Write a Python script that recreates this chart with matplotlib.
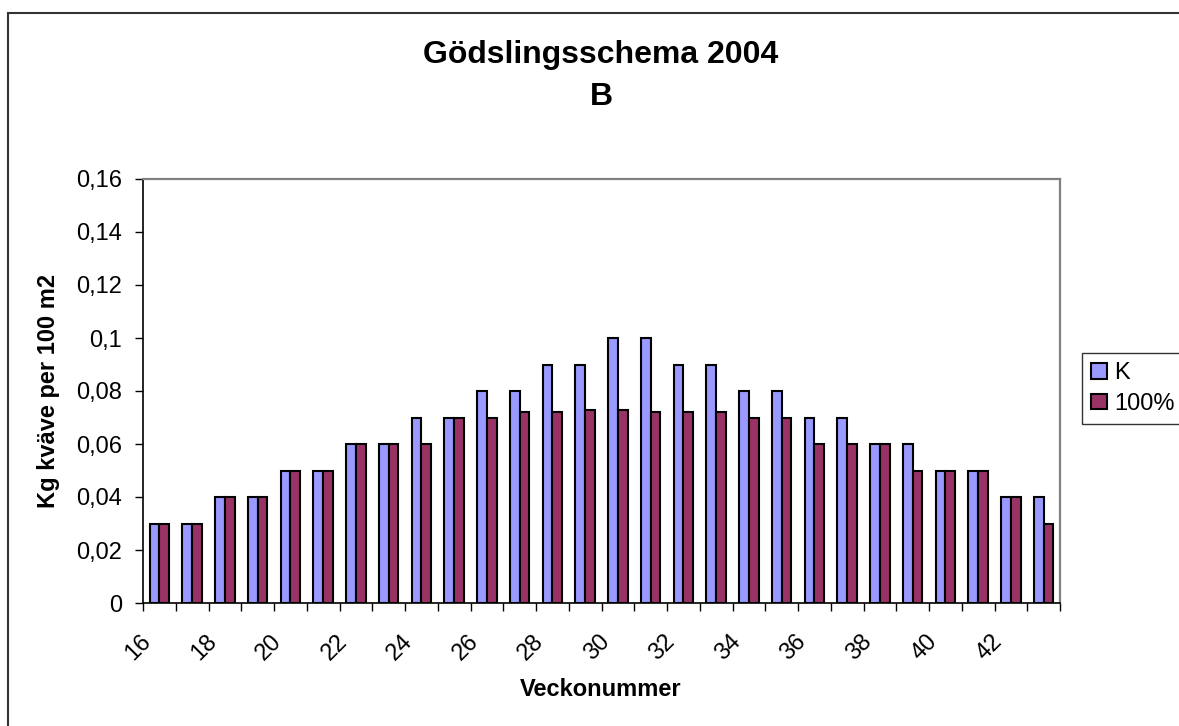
import numpy as np
import matplotlib.pyplot as plt
from matplotlib.patches import Rectangle
from matplotlib.ticker import FixedLocator, FuncFormatter
from matplotlib.transforms import ScaledTranslation

plt.rcParams['font.family'] = ['Liberation Sans', 'DejaVu Sans']

# -----------------------------
# data
# -----------------------------
weeks = list(range(16, 44))
k_vals = [0.03, 0.03, 0.04, 0.04, 0.05, 0.05, 0.06, 0.06, 0.07, 0.07,
          0.08, 0.08, 0.09, 0.09, 0.10, 0.10, 0.09, 0.09, 0.08, 0.08,
          0.07, 0.07, 0.06, 0.06, 0.05, 0.05, 0.04, 0.04]
p100_vals = [0.03, 0.03, 0.04, 0.04, 0.05, 0.05, 0.06, 0.06, 0.06, 0.07,
             0.07, 0.072, 0.072, 0.073, 0.073, 0.072, 0.072, 0.072, 0.07, 0.07,
             0.06, 0.06, 0.06, 0.05, 0.05, 0.05, 0.04, 0.03]
series_names = ['K', '100%']
y_ticks = [0, 0.02, 0.04, 0.06, 0.08, 0.10, 0.12, 0.14, 0.16]

W, H = 1179, 726
fig = plt.figure(figsize=(W / 100, H / 100), dpi=100)
ax = fig.add_axes([143 / W, 1 - 603 / H, (1060 - 143) / W, (603 - 179) / H])

x = np.arange(len(weeks))
bw = 0.295
ax.bar(x - bw / 2, k_vals, bw, color='#9999FF', edgecolor='black', linewidth=1.5,
       label=series_names[0])
ax.bar(x + bw / 2, p100_vals, bw, color='#993366', edgecolor='black', linewidth=1.5,
       label=series_names[1])

ax.set_xlim(-0.5, len(weeks) - 0.5)
ax.set_ylim(0, 0.16)

# y axis
ax.yaxis.set_major_locator(FixedLocator(y_ticks))
ax.yaxis.set_major_formatter(FuncFormatter(lambda v, p: ('%g' % v).replace('.', ',')))
ax.tick_params(axis='y', direction='out', length=6, width=1, labelsize=17, pad=9)

# x axis: ticks between categories, labels every second week
ax.xaxis.set_major_locator(FixedLocator(np.arange(-0.5, len(weeks), 1.0)))
ax.xaxis.set_major_formatter(FuncFormatter(lambda v, p: ''))
ax.xaxis.set_minor_locator(FixedLocator(x[::2]))
ax.set_xticklabels([str(w) for w in weeks[::2]], minor=True)
ax.tick_params(axis='x', which='major', direction='out', length=6, width=1)
ax.tick_params(axis='x', which='minor', length=0, labelsize=17, pad=20)
for lbl in ax.get_xticklabels(minor=True):
    lbl.set_rotation(45)
    lbl.set_ha('center')
    lbl.set_va('top')
    lbl.set_transform(lbl.get_transform() + ScaledTranslation(-0.21, 0, fig.dpi_scale_trans))

for s in ['left', 'bottom']:
    ax.spines[s].set_color('black')
    ax.spines[s].set_linewidth(1.2)
for s in ['top', 'right']:
    ax.spines[s].set_color('#808080')
    ax.spines[s].set_linewidth(1.6)

# titles and axis labels
fig.text(601 / W, 1 - 55 / H, 'Gödslingsschema 2004', ha='center', va='center',
         fontsize=23, fontweight='bold')
fig.text(601 / W, 1 - 97 / H, 'B', ha='center', va='center',
         fontsize=23, fontweight='bold')
fig.text(601 / W, 1 - 690 / H, 'Veckonummer', ha='center', va='center',
         fontsize=17, fontweight='bold')
fig.text(48 / W, 1 - 391 / H, 'Kg kväve per 100 m2', ha='center', va='center',
         rotation=90, fontsize=17, fontweight='bold')

leg = fig.legend(loc='upper left', bbox_to_anchor=(1082 / W, 1 - 353 / H),
                 fontsize=17, frameon=True, fancybox=False, shadow=False,
                 borderaxespad=0, borderpad=0.4, handlelength=0.65, handleheight=0.65,
                 handletextpad=0.3, labelspacing=0.35)
leg.get_frame().set_edgecolor('black')
leg.get_frame().set_linewidth(1.0)

# outer chart border (cut at right and bottom)
fig.add_artist(Rectangle((8 / W, -0.1), 1.2, 1.1 - 13 / H, transform=fig.transFigure,
                         fill=False, edgecolor='#333333', linewidth=1.5))

plt.savefig('out.png', dpi=100)
